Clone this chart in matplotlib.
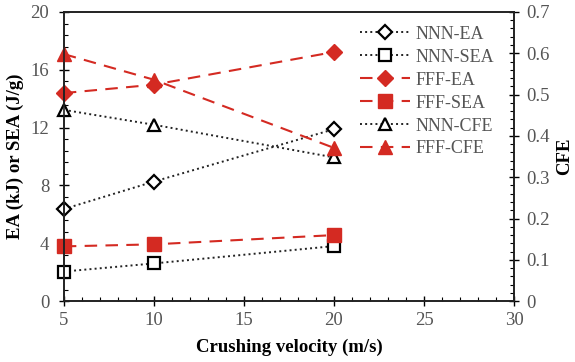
import matplotlib.pyplot as plt
from matplotlib.ticker import MultipleLocator

plt.rcParams['font.family'] = ['Liberation Serif', 'DejaVu Serif']

# ---------------------------
# DATA
# ---------------------------
velocity = [5, 10, 20]

nnn_ea = [6.37, 8.27, 11.89]
nnn_sea = [2.05, 2.61, 3.81]
fff_ea = [14.39, 14.97, 17.23]
fff_sea = [3.79, 3.93, 4.57]

nnn_cfe = [0.463, 0.427, 0.348]
fff_cfe = [0.598, 0.536, 0.371]

red = "#d42a22"
grey_txt = "#555555"

# ---------------------------
# FIGURE
# ---------------------------
fig = plt.figure(figsize=(5.75, 3.62), dpi=100)
ax = fig.add_axes([0.111, 0.168, 0.783, 0.799])
ax2 = ax.twinx()

nnn_style = dict(linestyle=":", color="#222222", lw=1.4, mfc="white", mec="black",
                 mew=1.6, clip_on=False)
fff_style = dict(linestyle="--", color=red, lw=1.5, dashes=(6, 4), mfc=red, mec=red,
                 clip_on=False)

ax.plot(velocity, nnn_ea, marker="D", ms=7, label="NNN-EA", **nnn_style)
ax.plot(velocity, nnn_sea, marker="s", ms=9, label="NNN-SEA", **nnn_style)
ax.plot(velocity, fff_ea, marker="D", ms=8, label="FFF-EA", **fff_style)
ax.plot(velocity, fff_sea, marker="s", ms=10, label="FFF-SEA", **fff_style)
l5, = ax2.plot(velocity, nnn_cfe, marker="^", ms=9, label="NNN-CFE", **nnn_style)
l6, = ax2.plot(velocity, fff_cfe, marker="^", ms=10, label="FFF-CFE", **fff_style)

ax.set_xlim(5, 30)
ax.set_ylim(0, 20)
ax2.set_ylim(0, 0.7)

ax.xaxis.set_major_locator(MultipleLocator(5))
ax.xaxis.set_minor_locator(MultipleLocator(1))
ax.yaxis.set_major_locator(MultipleLocator(4))
ax.yaxis.set_minor_locator(MultipleLocator(0.8))
ax2.yaxis.set_major_locator(MultipleLocator(0.1))
ax2.yaxis.set_minor_locator(MultipleLocator(0.02))
ax2.set_yticklabels(["0" if abs(v) < 1e-9 else f"{v:.1f}" for v in ax2.get_yticks()])

for a in (ax, ax2):
    a.tick_params(which="major", direction="inout", length=7, width=1,
                  labelsize=13.5, labelcolor=grey_txt, pad=4)
    a.tick_params(which="minor", direction="in", length=3, width=0.8)
    for s in a.spines.values():
        s.set_linewidth(1.2)
        s.set_color("#222222")
ax.tick_params(axis="y", which="major", pad=7)
ax2.tick_params(axis="y", which="major", pad=5)

ax.set_xlabel("Crushing velocity (m/s)", fontsize=13.5, fontweight="bold", labelpad=7)
ax.set_ylabel("EA (kJ) or SEA (J/g)", fontsize=13.5, fontweight="bold", labelpad=5)
ax2.set_ylabel("CFE", fontsize=13.5, fontweight="bold", labelpad=5)

handles, labels = ax.get_legend_handles_labels()
handles += [l5, l6]
labels += ["NNN-CFE", "FFF-CFE"]
leg = ax2.legend(handles, labels, loc="upper right", bbox_to_anchor=(0.98, 0.99),
                 frameon=False, fontsize=13, handlelength=2.8, labelspacing=0.33,
                 handletextpad=0.3, borderaxespad=0.2)
for t in leg.get_texts():
    t.set_color(grey_txt)

plt.savefig("out.png", dpi=100)
